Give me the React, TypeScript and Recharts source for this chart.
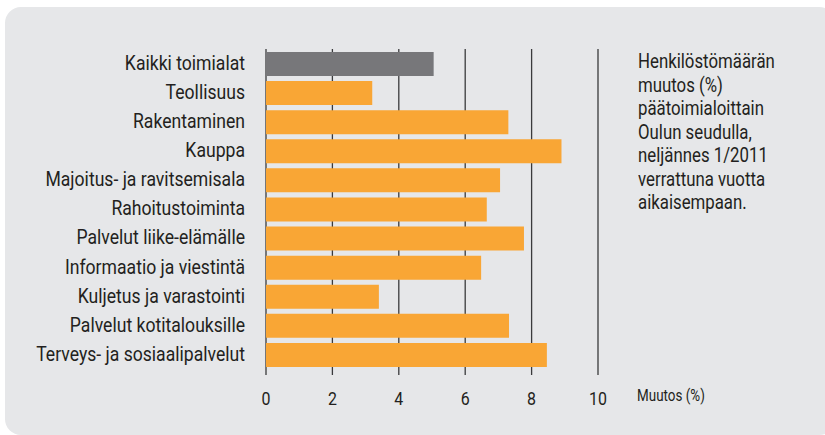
import React from 'react';
import { BarChart, Bar, XAxis, YAxis, CartesianGrid, Cell } from 'recharts';

const categories = [
  'Kaikki toimialat',
  'Teollisuus',
  'Rakentaminen',
  'Kauppa',
  'Majoitus- ja ravitsemisala',
  'Rahoitustoiminta',
  'Palvelut liike-elämälle',
  'Informaatio ja viestintä',
  'Kuljetus ja varastointi',
  'Palvelut kotitalouksille',
  'Terveys- ja sosiaalipalvelut',
];
const values = [5.05, 3.2, 7.3, 8.9, 7.05, 6.65, 7.77, 6.48, 3.4, 7.32, 8.46];
const xTicks = [0, 2, 4, 6, 8, 10];
const noteLines = [
  'Henkilöstömäärän',
  'muutos (%)',
  'päätoimialoittain',
  'Oulun seudulla,',
  'neljännes 1/2011',
  'verrattuna vuotta',
  'aikaisempaan.',
];
const axisTitle = 'Muutos (%)';

const data = categories.map((name, i) => ({ name, value: values[i] }));

const FONT = "Roboto, 'DejaVu Sans Condensed', sans-serif";
const TEXT = '#231f20';
const SX = 0.84;
const SX_CAT = 0.88;

function CatTick(props: any) {
  const { x, y, payload } = props;
  return (
    <text
      transform={`translate(${x},${y}) scale(${SX_CAT},1)`}
      textAnchor="end"
      dominantBaseline="central"
      fill={TEXT}
      fontSize={20}
      fontFamily={FONT}
    >
      {payload.value}
    </text>
  );
}

function NumTick(props: any) {
  const { x, y, payload } = props;
  return (
    <text
      transform={`translate(${x},${y}) scale(${SX},1)`}
      textAnchor="middle"
      dominantBaseline="central"
      fill={TEXT}
      fontSize={19}
      fontFamily={FONT}
    >
      {payload.value}
    </text>
  );
}

function AxisTitle(props: any) {
  const { viewBox } = props;
  const x = viewBox.x + viewBox.width + 39;
  const y = viewBox.y + 21;
  return (
    <text
      transform={`translate(${x},${y}) scale(${SX},1)`}
      textAnchor="start"
      dominantBaseline="central"
      fill={TEXT}
      fontSize={16}
      fontFamily={FONT}
    >
      {axisTitle}
    </text>
  );
}

export default function App() {
  return (
    <div style={{ position: 'fixed', left: 0, top: 0, width: 825, height: 435, background: '#ffffff', overflow: 'hidden' }}>
      <div
        style={{
          position: 'absolute',
          left: 5,
          top: 7,
          width: 830,
          height: 428,
          background: '#e6e7e9',
          borderRadius: 16,
        }}
      />
      <div style={{ position: 'absolute', left: 0, top: 0 }}>
        <BarChart
          width={825}
          height={435}
          data={data}
          layout="vertical"
          margin={{ top: 49, right: 227, bottom: 30, left: 0 }}
          barCategoryGap={5}
        >
          <CartesianGrid horizontal={false} vertical={true} stroke="#3a3a3c" strokeWidth={1.3} />
          <XAxis
            type="number"
            domain={[0, 10]}
            ticks={xTicks}
            axisLine={false}
            tickLine={false}
            height={30}
            tickMargin={18}
            tick={<NumTick />}
            interval={0}
            label={<AxisTitle />}
          />
          <YAxis
            type="category"
            dataKey="name"
            width={266}
            axisLine={false}
            tickLine={false}
            tickMargin={15}
            interval={0}
            padding={{ top: 0, bottom: 6 }}
            tick={<CatTick />}
          />
          <Bar dataKey="value" isAnimationActive={false} barSize={24}>
            {data.map((d, i) => (
              <Cell key={d.name} fill={i === 0 ? '#77777a' : '#f9a635'} />
            ))}
          </Bar>
        </BarChart>
      </div>
      <div
        style={{
          position: 'absolute',
          left: 638,
          top: 50,
          fontFamily: FONT,
          fontSize: 20,
          lineHeight: '23.5px',
          color: TEXT,
          whiteSpace: 'nowrap',
          transform: `scaleX(${SX})`,
          transformOrigin: 'left top',
        }}
      >
        {noteLines.map((l) => (
          <div key={l}>{l}</div>
        ))}
      </div>
    </div>
  );
}
